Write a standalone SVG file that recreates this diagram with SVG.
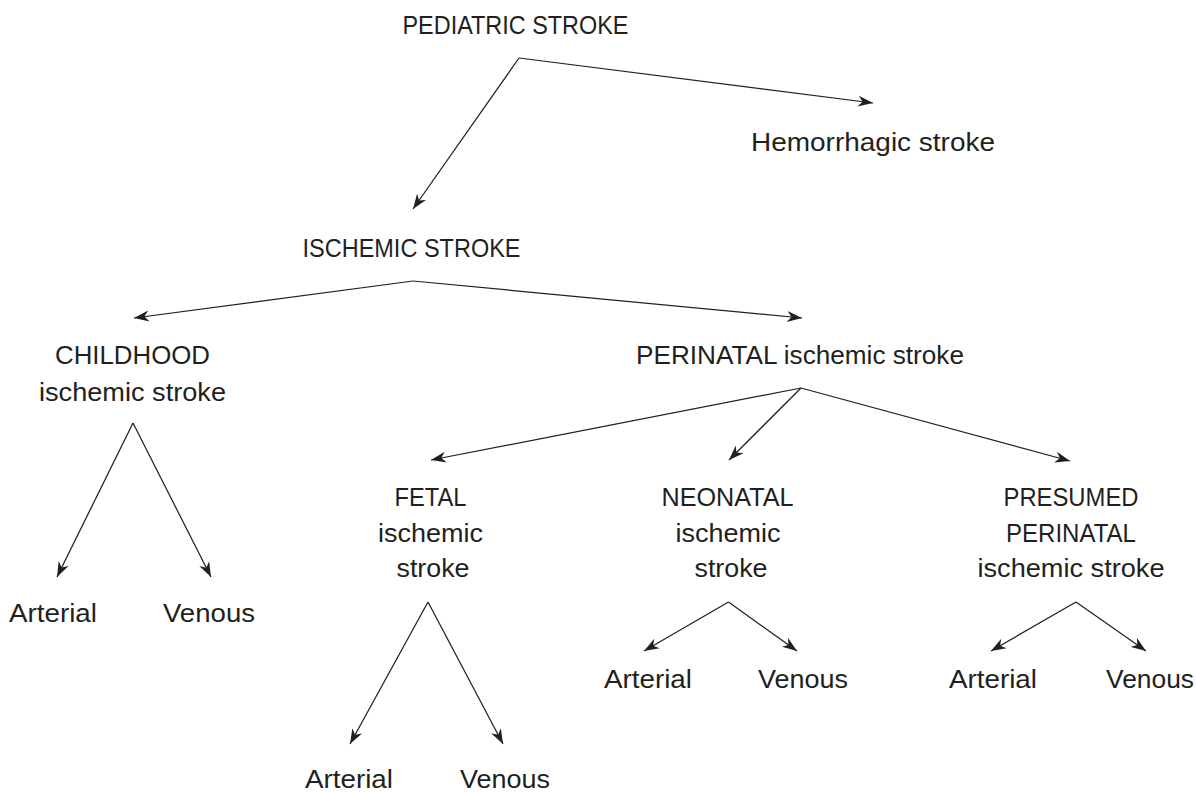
<svg xmlns="http://www.w3.org/2000/svg" width="1196" height="792" viewBox="0 0 1196 792">
<style>
text{font-family:"Liberation Sans",Arial,sans-serif;font-size:26px;fill:#231f20;text-anchor:middle}
.c line{stroke:#231f20;stroke-width:1.25;fill:none;marker-end:url(#ah)}
</style>
<defs>
<marker id="ah" viewBox="-15 -6 16 12" refX="0" refY="0" markerWidth="16" markerHeight="12" markerUnits="userSpaceOnUse" orient="auto">
<path d="M0,0 L-15,-5.5 L-10.5,0 L-15,5.5 Z" fill="#231f20"/>
</marker>
</defs>
<rect width="1196" height="792" fill="#fff"/>
<g class="c" id="connectors">
<line x1="519" y1="58" x2="873" y2="103"/>
<line x1="519" y1="58" x2="413" y2="209"/>
<line x1="413" y1="281" x2="134" y2="318"/>
<line x1="413" y1="281" x2="802" y2="318"/>
<line x1="133" y1="423" x2="57" y2="577"/>
<line x1="133" y1="423" x2="211" y2="577"/>
<line x1="801" y1="388" x2="431" y2="460"/>
<line x1="801" y1="388" x2="729" y2="460"/>
<line x1="801" y1="388" x2="1070" y2="461"/>
<line x1="428" y1="602" x2="350" y2="744"/>
<line x1="428" y1="602" x2="503" y2="744"/>
<line x1="728.5" y1="602" x2="644" y2="651"/>
<line x1="728.5" y1="602" x2="797" y2="651"/>
<line x1="1076" y1="602" x2="991" y2="651"/>
<line x1="1076" y1="602" x2="1146" y2="651"/>
</g>
<g id="n-pediatric"><text x="515.5" y="34" textLength="226" lengthAdjust="spacingAndGlyphs">PEDIATRIC STROKE</text></g>
<g id="n-hemorrhagic"><text x="873" y="151" textLength="244" lengthAdjust="spacingAndGlyphs">Hemorrhagic stroke</text></g>
<g id="n-ischemic"><text x="411.5" y="257" textLength="218" lengthAdjust="spacingAndGlyphs">ISCHEMIC STROKE</text></g>
<g id="n-childhood"><text x="132.5" y="364" textLength="155" lengthAdjust="spacingAndGlyphs">CHILDHOOD</text><text x="132.5" y="401" textLength="187" lengthAdjust="spacingAndGlyphs">ischemic stroke</text></g>
<g id="n-perinatal"><text x="800" y="364" textLength="328" lengthAdjust="spacingAndGlyphs">PERINATAL ischemic stroke</text></g>
<g id="n-fetal"><text x="430.5" y="506" textLength="72" lengthAdjust="spacingAndGlyphs">FETAL</text><text x="430.5" y="541.5" textLength="105" lengthAdjust="spacingAndGlyphs">ischemic</text><text x="433" y="577" textLength="73" lengthAdjust="spacingAndGlyphs">stroke</text></g>
<g id="n-neonatal"><text x="727.5" y="506" textLength="132" lengthAdjust="spacingAndGlyphs">NEONATAL</text><text x="728" y="541.5" textLength="105" lengthAdjust="spacingAndGlyphs">ischemic</text><text x="731" y="577" textLength="73" lengthAdjust="spacingAndGlyphs">stroke</text></g>
<g id="n-presumed"><text x="1071" y="506" textLength="135" lengthAdjust="spacingAndGlyphs">PRESUMED</text><text x="1071" y="541.5" textLength="130" lengthAdjust="spacingAndGlyphs">PERINATAL</text><text x="1071" y="577" textLength="187" lengthAdjust="spacingAndGlyphs">ischemic stroke</text></g>
<g id="n-ch-arterial"><text x="53" y="622" textLength="88" lengthAdjust="spacingAndGlyphs">Arterial</text></g>
<g id="n-ch-venous"><text x="209" y="622" textLength="92" lengthAdjust="spacingAndGlyphs">Venous</text></g>
<g id="n-fe-arterial"><text x="349" y="788" textLength="88" lengthAdjust="spacingAndGlyphs">Arterial</text></g>
<g id="n-fe-venous"><text x="505" y="788" textLength="90" lengthAdjust="spacingAndGlyphs">Venous</text></g>
<g id="n-ne-arterial"><text x="648" y="688" textLength="88" lengthAdjust="spacingAndGlyphs">Arterial</text></g>
<g id="n-ne-venous"><text x="803" y="688" textLength="90" lengthAdjust="spacingAndGlyphs">Venous</text></g>
<g id="n-pr-arterial"><text x="993" y="688" textLength="88" lengthAdjust="spacingAndGlyphs">Arterial</text></g>
<g id="n-pr-venous"><text x="1150" y="688" textLength="88" lengthAdjust="spacingAndGlyphs">Venous</text></g>
</svg>
